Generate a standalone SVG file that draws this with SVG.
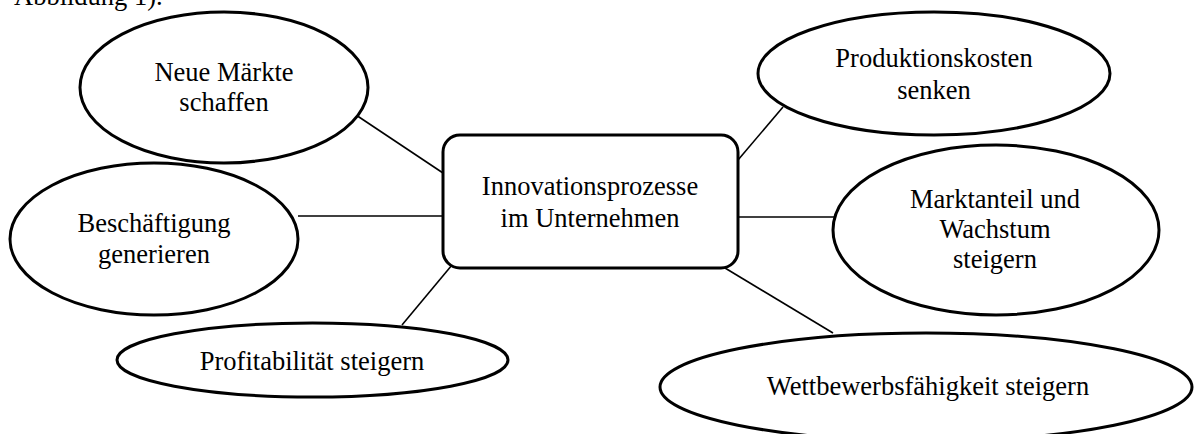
<svg xmlns="http://www.w3.org/2000/svg" width="1194" height="434" viewBox="0 0 1194 434">
<style>
.shape{fill:#fff;stroke:#000;stroke-width:3}
.conn line{stroke:#000;stroke-width:1.6}
text{font-family:"Liberation Serif","Times New Roman",serif;font-size:26.5px;fill:#000;text-anchor:middle}
</style>
<rect width="1194" height="434" fill="#fff"/>
<text x="14" y="5" style="text-anchor:start">Abbildung 1).</text>
<g id="connectors" class="conn">
<line x1="353" y1="113" x2="443" y2="173"/>
<line x1="298" y1="216" x2="443" y2="216"/>
<line x1="452" y1="265" x2="402" y2="325"/>
<line x1="738" y1="160" x2="783" y2="107"/>
<line x1="738" y1="217" x2="834" y2="217"/>
<line x1="725" y1="268" x2="833" y2="333"/>
</g>
<g id="center">
<rect class="shape" x="443" y="135" width="295" height="133" rx="17"/>
<text x="590" y="195">Innovationsprozesse</text>
<text x="590" y="227">im Unternehmen</text>
</g>
<g id="neue-maerkte">
<ellipse class="shape" cx="224" cy="87.5" rx="144" ry="75.5"/>
<text x="224" y="81">Neue Märkte</text>
<text x="224" y="111">schaffen</text>
</g>
<g id="beschaeftigung">
<ellipse class="shape" cx="154" cy="239" rx="144" ry="76"/>
<text x="154" y="232">Beschäftigung</text>
<text x="154" y="263">generieren</text>
</g>
<g id="profitabilitaet">
<ellipse class="shape" cx="312.5" cy="360" rx="195.5" ry="37"/>
<text x="312" y="370">Profitabilität steigern</text>
</g>
<g id="produktionskosten">
<ellipse class="shape" cx="934" cy="73.5" rx="176" ry="61.5"/>
<text x="934" y="67">Produktionskosten</text>
<text x="934" y="99">senken</text>
</g>
<g id="marktanteil">
<ellipse class="shape" cx="996" cy="230" rx="163" ry="85"/>
<text x="995" y="208">Marktanteil und</text>
<text x="995" y="238">Wachstum</text>
<text x="995" y="268">steigern</text>
</g>
<g id="wettbewerb">
<ellipse class="shape" cx="926" cy="387" rx="266" ry="54"/>
<text x="928" y="395">Wettbewerbsfähigkeit steigern</text>
</g>
</svg>
